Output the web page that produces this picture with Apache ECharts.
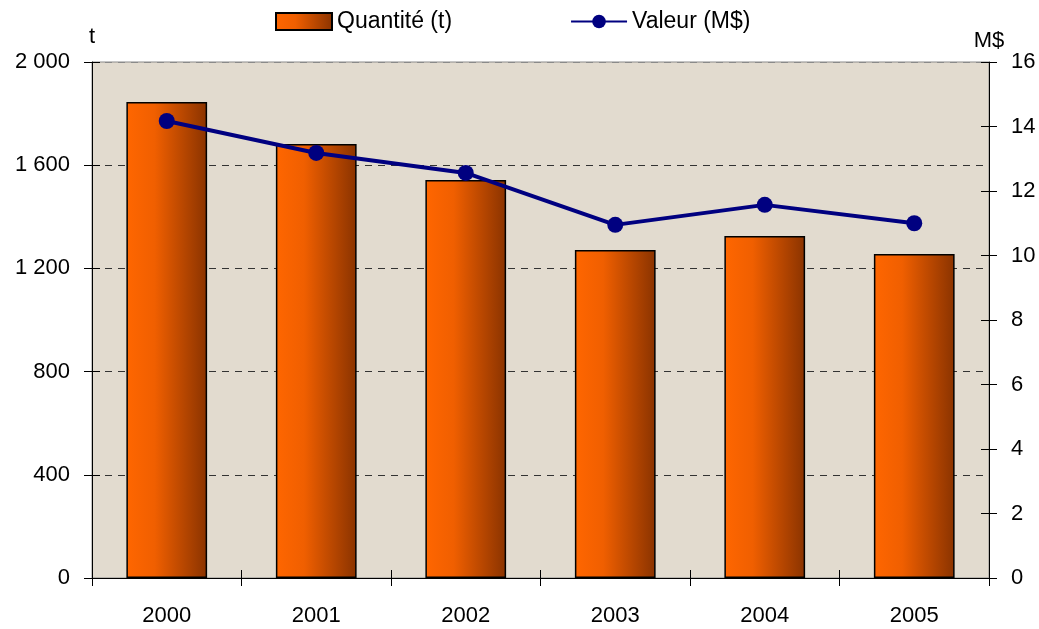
<!DOCTYPE html>
<html>
<head>
<meta charset="utf-8">
<script src="https://cdn.jsdelivr.net/npm/echarts@6/dist/echarts.min.js"></script>
<style>html,body{margin:0;padding:0;background:#fff}#c{width:1039px;height:629px}</style>
</head>
<body>
<div id="c"></div>
<script>
const years = ['2000', '2001', '2002', '2003', '2004', '2005'];
const quantite = [1845, 1682, 1543, 1271, 1326, 1256];
const valeur = [14.17, 13.18, 12.56, 10.95, 11.57, 11.0];

const chart = echarts.init(document.getElementById('c'));
const font = 'Liberation Sans, Arial, sans-serif';
const FS = 22;
function fmt(v){ return String(v).replace(/\B(?=(\d{3})+(?!\d))/g, ' '); }
const tickStyle = { color: '#000', width: 1 };

chart.setOption({
  animation: false,
  textStyle: { fontFamily: font, color: '#000' },
  legend: {
    top: 5, left: 270,
    itemGap: 118, itemWidth: 56, itemHeight: 17,
    textStyle: { fontSize: 23, color: '#000', fontFamily: font },
    data: [
      { name: 'Quantité (t)', icon: 'rect' },
      { name: 'Valeur (M$)' }
    ]
  },
  grid: {
    left: 92, right: 50, top: 62, bottom: 51,
    show: true, backgroundColor: '#e2dbcf', borderColor: '#8a8a8a', borderWidth: 1
  },
  xAxis: [
    {
      type: 'category', data: years,
      axisLine: { lineStyle: { color: '#000', width: 1 } },
      axisTick: { show: true, length: 8, lineStyle: tickStyle },
      axisLabel: { fontSize: FS, color: '#000', margin: 27, fontFamily: font }
    },
    {
      type: 'category', data: years, position: 'bottom',
      axisLine: { show: false },
      axisTick: { show: true, inside: true, length: 8, lineStyle: tickStyle },
      axisLabel: { show: false }, splitLine: { show: false }
    }
  ],
  yAxis: [
    {
      type: 'value', min: 0, max: 2000, interval: 400,
      name: 't', nameLocation: 'end', nameGap: 14,
      nameTextStyle: { fontSize: FS, color: '#000', fontFamily: font },
      axisLine: { show: true, lineStyle: { color: '#000' } },
      axisTick: { show: true, length: 8, lineStyle: tickStyle },
      axisLabel: { fontSize: FS, color: '#000', margin: 22, formatter: fmt, fontFamily: font },
      splitLine: { show: true, lineStyle: { color: ['#333', '#333', '#333', '#333', '#333', '#8a8a8a'], type: [7, 6], width: 1 } }
    },
    {
      type: 'value', min: 0, max: 16, interval: 2,
      name: 'M$', nameLocation: 'end', nameGap: 10,
      nameTextStyle: { fontSize: FS, color: '#000', fontFamily: font },
      axisLine: { show: true, lineStyle: { color: '#000' } },
      axisTick: { show: true, length: 8, lineStyle: tickStyle },
      axisLabel: { fontSize: FS, color: '#000', margin: 22, fontFamily: font },
      splitLine: { show: false }
    },
    {
      type: 'value', min: 0, max: 2000, interval: 400, position: 'left',
      axisLine: { show: false },
      axisTick: { show: true, inside: true, length: 8, lineStyle: tickStyle },
      axisLabel: { show: false }, splitLine: { show: false }
    },
    {
      type: 'value', min: 0, max: 16, interval: 2, position: 'right',
      axisLine: { show: false },
      axisTick: { show: true, inside: true, length: 8, lineStyle: tickStyle },
      axisLabel: { show: false }, splitLine: { show: false }
    }
  ],
  series: [
    {
      name: 'Quantité (t)', type: 'bar', data: quantite, yAxisIndex: 0, xAxisIndex: 0,
      barWidth: '54%',
      itemStyle: {
        color: new echarts.graphic.LinearGradient(0, 0, 1, 0, [
          { offset: 0, color: '#ff6600' },
          { offset: 0.35, color: '#f05f00' },
          { offset: 1, color: '#8a3300' }
        ]),
        borderColor: '#000', borderWidth: 1.5
      }
    },
    {
      name: 'Valeur (M$)', type: 'line', data: valeur, yAxisIndex: 1, xAxisIndex: 0,
      symbol: 'circle', symbolSize: 16,
      lineStyle: { color: '#000080', width: 4 },
      itemStyle: { color: '#000080' }
    }
  ]
});
</script>
</body>
</html>
